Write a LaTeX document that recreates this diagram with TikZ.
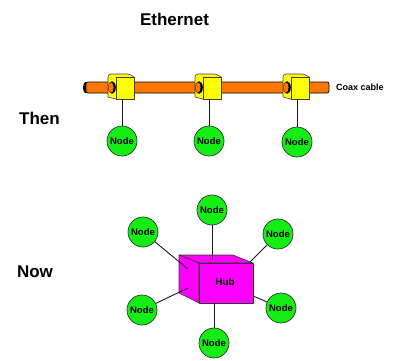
\documentclass[tikz,border=0pt]{standalone}
\usepackage{fontspec}
\setmainfont{Liberation Sans}
\begin{document}
\begin{tikzpicture}[x=1pt,y=-1pt,
  line join=round,
  host/.style={circle,draw=black!80,line width=0.7pt,fill=nodegreen,
    minimum size=30pt,inner sep=0pt,font=\fontsize{9.5}{10}\selectfont\bfseries},
  label text/.style={inner sep=0pt,font=\fontsize{17}{20}\selectfont\bfseries},
  wire/.style={draw=black!90,line width=0.9pt},
  clampface/.style={fill=clampyellow,draw=black!75,line width=0.6pt}]
\definecolor{nodegreen}{RGB}{20,238,20}
\definecolor{clampyellow}{RGB}{255,255,0}
\definecolor{coaxorange}{RGB}{255,119,0}
\definecolor{hubmagenta}{RGB}{255,0,255}
\useasboundingbox (0,0) rectangle (393,360);

% headings
\node[label text] (title) at (174.5,19) {Ethernet};
\node[label text] (then) at (39.5,118) {Then};
\node[label text] (now) at (35,272) {Now};

% coax cable with its dark end cap
\fill[black] (85.5,87.5) ellipse [x radius=2.5pt, y radius=5.5pt];
\draw[fill=coaxorange,draw=black,line width=0.7pt,rounded corners=2pt]
  (86,82) -- (329,82) -- (329,93) -- (86,93) -- cycle;
\node[anchor=west,inner sep=0pt,font=\fontsize{9}{10}\selectfont\bfseries]
  (coax) at (336,87.5) {Coax cable};

% cable taps: side face with the cable hole, then the front face
\foreach \c/\n in {122/1,209/2,297/3}{
  \draw[clampface,rounded corners=3pt]
    (\c-14,97) -- (\c-14,74) -- (\c+8,74) [sharp corners] -- (\c+12,77)
    -- (\c+12,99) -- (\c-6,99) -- cycle;
  \draw[clampface] (\c-6,77) rectangle (\c+12,99);
  \fill[black] (\c-10,87.5) ellipse [x radius=3.8pt, y radius=6.3pt];
  \fill[coaxorange] (\c-11,87.5) ellipse [x radius=2.6pt, y radius=5pt];
  \coordinate (tap\n) at (\c,99);
}
\node[host] (t1) at (122,141) {Node};
\node[host] (t2) at (209,141) {Node};
\node[host] (t3) at (297,142) {Node};
\foreach \n in {1,2,3}{\draw[wire] (tap\n) -- (t\n);}

% hub box
\draw[fill=hubmagenta,draw=black!80,line width=0.6pt]
  (179,255) -- (233,255) -- (253,263) -- (199,263) -- cycle;
\draw[fill=hubmagenta,draw=black!80,line width=0.6pt]
  (179,255) -- (199,263) -- (199,303) -- (179,293) -- cycle;
\draw[fill=hubmagenta,draw=black!80,line width=0.6pt]
  (199,263) rectangle (253,303);
\node[inner sep=0pt,font=\fontsize{10}{11}\selectfont\bfseries] (hub) at (225,282) {Hub};

% star-wired hosts
\node[host] (n1) at (212,210) {Node};
\node[host] (n2) at (143,232) {Node};
\node[host] (n3) at (278,234) {Node};
\node[host] (n4) at (142,310) {Node};
\node[host] (n5) at (214,343) {Node};
\node[host] (n6) at (281,308) {Node};

\coordinate (h1) at (212,260);
\coordinate (h2) at (188,269);
\coordinate (h3) at (250,262);
\coordinate (h4) at (188,288);
\coordinate (h5) at (214,303);
\coordinate (h6) at (253,296);
\foreach \n in {1,...,6}{\draw[wire] (h\n) -- (n\n);}
\end{tikzpicture}
\end{document}
